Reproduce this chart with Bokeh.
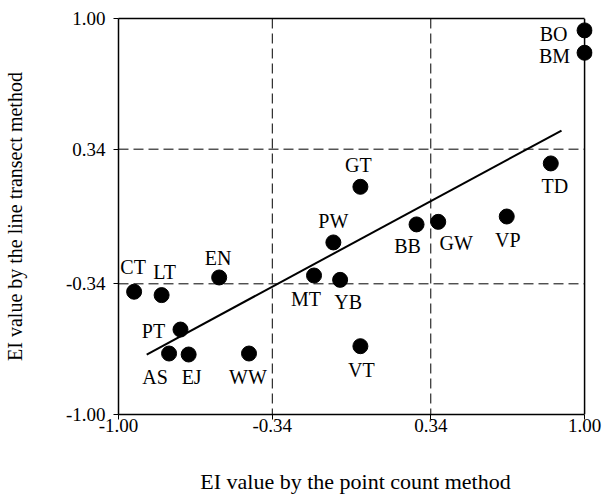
from bokeh.plotting import figure
from bokeh.models import (ColumnDataSource, FixedTicker, Span, Range1d,
                          CustomJSTickFormatter, LinearAxis)
from bokeh.core.properties import value
from bokeh.embed import file_html
from bokeh.resources import INLINE

# ---- data ----
sites = ["BO", "BM", "TD", "GT", "VP", "GW", "BB", "PW", "EN", "MT", "YB",
         "CT", "LT", "PT", "AS", "EJ", "WW", "VT"]
ei_point = [1.00, 1.00, 0.855, 0.038, 0.666, 0.372, 0.279, -0.078, -0.568, -0.161, -0.049,
            -0.933, -0.815, -0.734, -0.783, -0.699, -0.440, 0.038]
ei_line = [0.94, 0.827, 0.268, 0.150, 0.000, -0.027, -0.040, -0.131, -0.308, -0.298, -0.320,
           -0.380, -0.397, -0.571, -0.692, -0.697, -0.692, -0.655]
fit_x = [-0.879, 0.901]
fit_y = [-0.697, 0.434]
tick_values = [-1.0, -0.34, 0.34, 1.0]
axis_min, axis_max = -1.0, 1.0
grid_values = [-0.34, 0.34]

# label placement (screen pixel offsets from each point)
label_dx = [-31, -30, 4, -2, 1, 18, -9, 0, -1, -8, 8, -1, 3, -27, -14, 3, -1, 1]
label_dy = [4, 3, 23, -22, 23, 21, 22, -21, -19, 23, 22, -25, -23, 1, 23, 22, 23, 24]

FONT = "Liberation Serif"

src = ColumnDataSource(dict(x=ei_point, y=ei_line, name=sites, dx=label_dx, dy=label_dy))

# small pad on the right so the points at x = 1 are not clipped by the frame
p = figure(width=602, height=496, output_backend="svg", toolbar_location=None,
           x_range=Range1d(axis_min, axis_max + 0.034), y_range=Range1d(axis_min, axis_max),
           min_border_left=115, min_border_right=10, min_border_top=18, min_border_bottom=82)
p.background_fill_color = "white"
p.border_fill_color = "white"
p.outline_line_color = None
p.grid.visible = False

bottom_ax = p.below[0]
left_ax = p.left[0]

# dashed reference lines
for g in grid_values:
    p.add_layout(Span(location=g, dimension="height", line_color="black",
                      line_width=1, line_dash="10 5"))
n = len(grid_values)
p.segment(x0=[axis_min] * n, y0=grid_values, x1=[axis_max] * n, y1=grid_values,
          line_color="black", line_width=1, line_dash="10 5")

# right frame edge
p.add_layout(Span(location=axis_max, dimension="height", line_color="black", line_width=1.5))

p.line(fit_x, fit_y, line_color="black", line_width=2)
p.scatter("x", "y", source=src, size=15, fill_color="black", line_color="black")
p.text("x", "y", text="name", source=src, x_offset="dx", y_offset="dy",
       text_align="center", text_baseline="middle", text_font=value(FONT),
       text_font_size="20px", text_color="black")

fmt = CustomJSTickFormatter(code="return tick.toFixed(2);")
for ax in (bottom_ax, left_ax):
    ax.ticker = FixedTicker(ticks=tick_values)
    ax.formatter = fmt
    ax.bounds = (axis_min, axis_max)
    ax.axis_line_color = "black"
    ax.axis_line_width = 1.5
    ax.major_tick_out = 5
    ax.major_tick_in = 0
    ax.minor_tick_out = 0
    ax.minor_tick_in = 0
    ax.major_tick_line_color = "black"
    ax.major_label_text_font = FONT
    ax.major_label_text_font_size = "19px"
    ax.major_label_text_color = "black"
    ax.axis_label_text_font = FONT
    ax.axis_label_text_font_style = "normal"
    ax.axis_label_text_color = "black"

bottom_ax.axis_label = "EI value by the point count method"
left_ax.axis_label = "EI value by the line transect method"
bottom_ax.axis_label_text_font_size = "22px"
left_ax.axis_label_text_font_size = "20px"
bottom_ax.major_label_standoff = -1
left_ax.major_label_standoff = 8
bottom_ax.axis_label_standoff = 34
left_ax.axis_label_standoff = 37

# top frame edge
top_ax = LinearAxis(bounds=(axis_min, axis_max), major_tick_out=0, major_tick_in=0,
                    minor_tick_out=0, minor_tick_in=0, major_label_text_font_size="0px",
                    major_label_standoff=0, axis_label=None,
                    axis_line_color="black", axis_line_width=1.5,
                    ticker=FixedTicker(ticks=[]))
p.add_layout(top_ax, "above")

open("out.html", "w").write(file_html(p, INLINE))
